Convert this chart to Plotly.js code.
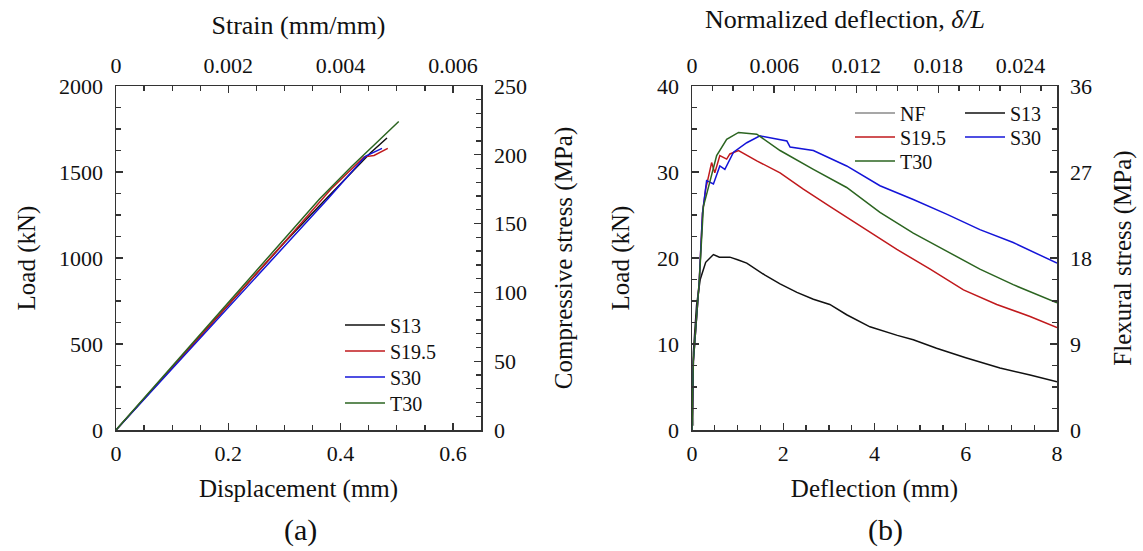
<!DOCTYPE html>
<html><head><meta charset="utf-8">
<script src="https://cdn.plot.ly/plotly-3.0.1.min.js"></script>
<style>html,body{margin:0;padding:0;background:#fff}#chart{width:1143px;height:551px}</style>
</head><body><div id="chart"></div>
<script>
// ---- Panel (a): compression ----
const a_series = ["S13", "S19.5", "S30", "T30"];
const a_S13_disp  = [0, 0.1, 0.2, 0.3, 0.37, 0.4534, 0.4826];
const a_S13_load  = [0, 365, 730, 1090, 1330, 1612, 1698];
const a_S195_disp = [0, 0.1, 0.2, 0.3, 0.383, 0.4417, 0.4595, 0.484];
const a_S195_load = [0, 362, 727, 1092, 1401, 1588, 1596, 1637];
const a_S30_disp  = [0, 0.1, 0.2, 0.3, 0.377, 0.4447, 0.4737];
const a_S30_load  = [0, 356, 712, 1068, 1343, 1593, 1637];
const a_T30_disp  = [0, 0.1, 0.2, 0.3, 0.3624, 0.42, 0.46, 0.5035];
const a_T30_load  = [0, 372, 742, 1112, 1343, 1533, 1660, 1794];

// ---- Panel (b): flexure ----
const b_series = ["NF", "S13", "S19.5", "S30", "T30"];
const b_NF_defl   = [0, 0.02, 0.03];
const b_NF_load   = [0, 6, 0.5];
const b_S13_defl  = [0, 0.03, 0.1, 0.18, 0.3, 0.47, 0.6, 0.83, 1.0, 1.2, 1.6, 1.93, 2.3, 2.66, 3.02, 3.39, 3.9, 4.12, 4.5, 4.85, 5.36, 6.0, 6.75, 7.41, 8.0];
const b_S13_load  = [0, 9, 14.5, 17.5, 19.5, 20.4, 20.1, 20.1, 19.8, 19.4, 18.0, 17.0, 16.0, 15.2, 14.6, 13.4, 12.0, 11.6, 11.0, 10.5, 9.5, 8.4, 7.2, 6.4, 5.6];
const b_S195_defl = [0, 0.03, 0.16, 0.23, 0.3, 0.43, 0.5, 0.61, 0.76, 0.83, 1.02, 1.42, 1.93, 2.44, 3.02, 3.76, 4.49, 5.22, 5.95, 6.68, 7.41, 8.0];
const b_S195_load = [0, 8, 17.4, 25.2, 28.0, 31.1, 29.9, 31.9, 31.5, 32.1, 32.5, 31.3, 29.9, 28.0, 26.0, 23.5, 21.0, 18.7, 16.3, 14.6, 13.2, 11.9];
const b_S30_defl  = [0, 0.03, 0.16, 0.23, 0.32, 0.47, 0.61, 0.72, 0.91, 1.2, 1.49, 2.08, 2.15, 2.66, 3.39, 4.12, 4.85, 5.58, 6.31, 7.04, 8.0];
const b_S30_load  = [0, 8, 17.4, 25.2, 29.0, 28.6, 30.7, 30.3, 32.3, 33.4, 34.2, 33.6, 32.9, 32.5, 30.7, 28.4, 26.8, 25.1, 23.3, 21.8, 19.4];
const b_T30_defl  = [0, 0.03, 0.16, 0.25, 0.32, 0.45, 0.54, 0.76, 1.02, 1.42, 1.93, 2.66, 3.39, 4.12, 4.85, 5.58, 6.31, 7.04, 8.0];
const b_T30_load  = [0, 8, 17.4, 26.0, 27.4, 30.0, 31.9, 33.8, 34.6, 34.4, 32.5, 30.3, 28.2, 25.3, 22.9, 20.8, 18.7, 16.9, 14.8];

// axis tick labels
const a_bottom_ticks = [0, 0.2, 0.4, 0.6];
const a_top_ticks    = [0, 0.002, 0.004, 0.006];
const a_left_ticks   = [0, 500, 1000, 1500, 2000];
const a_right_ticks  = [0, 50, 100, 150, 200, 250];
const b_bottom_ticks = [0, 2, 4, 6, 8];
const b_top_ticks    = [0, 0.006, 0.012, 0.018, 0.024];
const b_left_ticks   = [0, 10, 20, 30, 40];
const b_right_ticks  = [0, 9, 18, 27, 36];

const W = 1143, H = 551;
const px = v => v / W, py = v => 1 - v / H;
const FONT = "Liberation Serif";
const colors = {S13: "#111111", "S19.5": "#c0191c", S30: "#1414d8", T30: "#2b6420", NF: "#8a8a8a"};

function line(x, y, name, xa, ya, leg) {
  return {x: x, y: y, name: name, type: "scatter", mode: "lines", xaxis: xa, yaxis: ya,
    line: {color: colors[name], width: 1.5}, legend: leg, showlegend: true, hoverinfo: "skip"};
}

const traces = [
  line(a_S13_disp, a_S13_load, "S13", "x", "y", "legend"),
  line(a_S195_disp, a_S195_load, "S19.5", "x", "y", "legend2"),
  line(a_S30_disp, a_S30_load, "S30", "x", "y", "legend3"),
  line(a_T30_disp, a_T30_load, "T30", "x", "y", "legend4"),
  {x: [], y: [], xaxis: "x2", yaxis: "y2", type: "scatter", showlegend: false},
  line(b_NF_defl, b_NF_load, "NF", "x3", "y3", "legend5"),
  line(b_S13_defl, b_S13_load, "S13", "x3", "y3", "legend6"),
  line(b_S195_defl, b_S195_load, "S19.5", "x3", "y3", "legend7"),
  line(b_S30_defl, b_S30_load, "S30", "x3", "y3", "legend8"),
  line(b_T30_defl, b_T30_load, "T30", "x3", "y3", "legend9"),
  {x: [], y: [], xaxis: "x4", yaxis: "y4", type: "scatter", showlegend: false}
];

const tickFont = {family: FONT, size: 22, color: "#111"};
const titleFont = {family: FONT, size: 25, color: "#111"};
const LC = "#333";
function ax(o) {
  return Object.assign({
    showline: true, linecolor: LC, linewidth: 1.5, mirror: false, showgrid: false, zeroline: false,
    ticks: "inside", ticklen: 7, tickwidth: 1.3, tickcolor: LC, tickfont: tickFont,
    fixedrange: true
  }, o);
}
const mn = d => ({dtick: d, ticks: "inside", ticklen: 5, tickcolor: LC, tickwidth: 1.3});
const dA = [px(116), px(481)], dB = [px(692), px(1057)], dY = [py(430), py(86)];

function leg(xp, yp) {
  return {x: px(xp), y: py(yp), xanchor: "left", yanchor: "middle", bgcolor: "rgba(0,0,0,0)",
    font: {family: FONT, size: 20, color: "#111"}, itemwidth: 40, tracegroupgap: 0};
}

const layout = {
  width: W, height: H, margin: {l: 0, r: 0, t: 0, b: 0},
  paper_bgcolor: "#fff", plot_bgcolor: "#fff",
  font: {family: FONT, color: "#111"},
  xaxis: ax({domain: dA, anchor: "y", range: [0, 0.65], tickvals: a_bottom_ticks, ticktext: a_bottom_ticks.map(String),
    minor: mn(0.05), ticklabelstandoff: 3,
    title: {text: "Displacement (mm)", font: titleFont, standoff: 14}}),
  xaxis2: ax({domain: dA, anchor: "y2", overlaying: "x", side: "top", range: [0, 0.0065], tickvals: a_top_ticks, ticktext: a_top_ticks.map(String),
    minor: mn(0.0005), ticklabelstandoff: 3,
    title: {text: "Strain (mm/mm)", font: {family: FONT, size: 26, color: "#111"}, standoff: 10}}),
  yaxis: ax({domain: dY, anchor: "x", range: [0, 2000], tickvals: a_left_ticks, ticktext: a_left_ticks.map(String),
    minor: mn(125), ticklabelstandoff: 7,
    title: {text: "Load (kN)", font: titleFont, standoff: 16}}),
  yaxis2: ax({domain: dY, anchor: "x2", overlaying: "y", side: "right", range: [0, 250], tickvals: a_right_ticks, ticktext: a_right_ticks.map(String),
    minor: mn(10), ticklabelstandoff: 7,
    title: {text: "Compressive stress (MPa)", font: titleFont, standoff: 28}}),
  xaxis3: ax({domain: dB, anchor: "y3", range: [0, 8], tickvals: b_bottom_ticks, ticktext: b_bottom_ticks.map(String),
    minor: mn(0.5), ticklabelstandoff: 3,
    title: {text: "Deflection (mm)", font: titleFont, standoff: 14}}),
  xaxis4: ax({domain: dB, anchor: "y4", overlaying: "x3", side: "top", range: [0, 8 / 300], tickvals: b_top_ticks, ticktext: b_top_ticks.map(String),
    minor: mn(0.0015), ticklabelstandoff: 3}),
  yaxis3: ax({domain: dY, anchor: "x3", range: [0, 40], tickvals: b_left_ticks, ticktext: b_left_ticks.map(String),
    minor: mn(2.5), ticklabelstandoff: 7,
    title: {text: "Load (kN)", font: titleFont, standoff: 20}}),
  yaxis4: ax({domain: dY, anchor: "x4", overlaying: "y3", side: "right", range: [0, 36], tickvals: b_right_ticks, ticktext: b_right_ticks.map(String),
    minor: mn(2.25), ticklabelstandoff: 7,
    title: {text: "Flexural stress (MPa)", font: titleFont, standoff: 22}}),
  legend: leg(340, 325),
  legend2: leg(340, 351),
  legend3: leg(340, 377),
  legend4: leg(340, 403),
  legend5: leg(850, 113),
  legend6: leg(960, 113),
  legend7: leg(850, 137),
  legend8: leg(960, 137),
  legend9: leg(850, 161),
  annotations: [
    {text: "Normalized deflection, <i>δ/L</i>", xref: "paper", yref: "paper", x: px(845), y: py(20), showarrow: false,
      xanchor: "center", yanchor: "middle", font: {family: FONT, size: 26, color: "#111"}},
    {text: "(a)", xref: "paper", yref: "paper", x: px(300), y: py(530), showarrow: false,
      xanchor: "center", yanchor: "middle", font: {family: FONT, size: 30, color: "#111"}},
    {text: "(b)", xref: "paper", yref: "paper", x: px(885), y: py(530), showarrow: false,
      xanchor: "center", yanchor: "middle", font: {family: FONT, size: 30, color: "#111"}}
  ]
};

Plotly.newPlot("chart", traces, layout, {staticPlot: true, displayModeBar: false});
</script></body></html>
